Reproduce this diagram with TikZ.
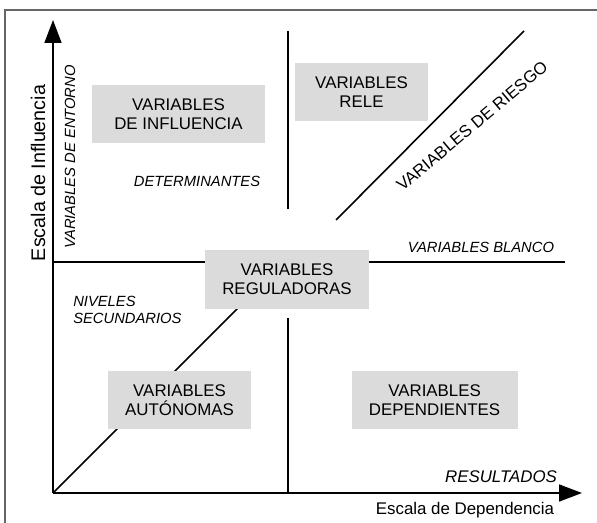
\documentclass[tikz,border=0pt]{standalone}
\usepackage{fontspec}
\setmainfont{Liberation Sans}
\usetikzlibrary{arrows.meta,positioning,backgrounds}

\tikzset{
  caja/.style={fill=black!14, minimum height=14.5mm, inner sep=0pt, align=center,
    font=\fontsize{12}{13.5}\selectfont},
  etiq/.style={font=\fontsize{10.5}{12.5}\selectfont\itshape},
  linea/.style={line width=0.45mm},
}

\begin{document}
\begin{tikzpicture}[x=0.25mm, y=-0.25mm, >={Triangle[length=5.7mm,width=4.2mm]}]

    \useasboundingbox (0,0) rectangle (597,523);
    \draw[black!60, line width=0.5mm] (5,523) -- (5,10) -- (597,10);

    \coordinate (O) at (53,493);
    \coordinate (X) at (582,493);
    \coordinate (Y) at (53,20);

    \node[caja, minimum width=43.25mm] (influencia) at (178.5,114) {VARIABLES\\DE INFLUENCIA};
    \node[caja, minimum width=33.25mm] (rele) at (361.5,92) {VARIABLES\\RELE};
    \node[caja, minimum width=41mm, minimum height=14.75mm] (reguladoras) at (287,279.5) {VARIABLES\\REGULADORAS};
    \node[caja, minimum width=35.75mm] (autonomas) at (179.5,400) {VARIABLES\\AUTÓNOMAS};
    \node[caja, minimum width=41.5mm, right=25mm of autonomas] (dependientes) {VARIABLES\\DEPENDIENTES};

    \begin{scope}[on background layer]
        \coordinate (D1) at (290,256);
        \draw[linea] (53,262) coordinate (H1) -- (565,262) coordinate (H2);
        \draw[line width=0.4mm] (O) -- (D1);
    \end{scope}

    % cuadrantes
    \draw[linea] (288,31) coordinate (V1) -- (288,209) coordinate (V2);
    \draw[linea] (288,318) coordinate (V3) -- (288,493) coordinate (V4);
    \draw[line width=0.4mm] (336,220) coordinate (R1) -- (524,31) coordinate (R2);

    \draw[linea, ->] (O) -- (Y);
    \draw[linea, ->] (O) -- (X);

    \node[rotate=90, font=\fontsize{14}{16}\selectfont] (influencia-eje) at (38,173) {Escala de Influencia};
    \node[font=\fontsize{12}{14}\selectfont] (dependencia-eje) at (465,510) {Escala de Dependencia};

    \node[etiq, rotate=90] (entorno) at (70,157) {VARIABLES DE ENTORNO};
    \node[etiq] (determinantes) at (197,181) {DETERMINANTES};
    \node[rotate=40, font=\fontsize{12}{14}\selectfont] (riesgo) at (472,126) {VARIABLES DE RIESGO};
    \node[etiq] (blanco) at (481,247) {VARIABLES BLANCO};
    \node[etiq, align=left, anchor=west, inner sep=0pt] (niveles) at (73,310) {NIVELES\\SECUNDARIOS};
    \node[etiq, font=\fontsize{12}{14}\selectfont\itshape] (resultados) at (501,477) {RESULTADOS};

\end{tikzpicture}
\end{document}
